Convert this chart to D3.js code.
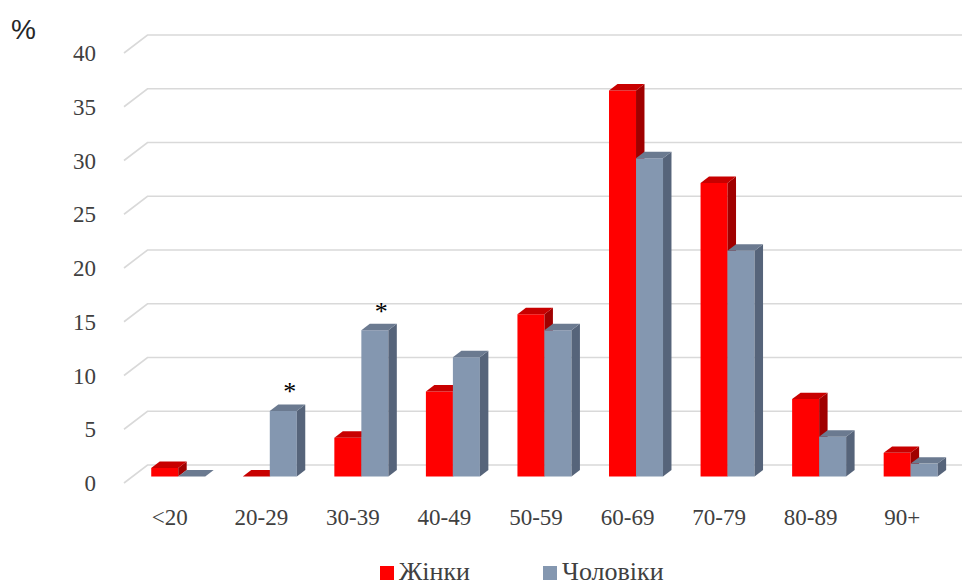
<!DOCTYPE html>
<html>
<head>
<meta charset="utf-8">
<script src="https://cdn.jsdelivr.net/npm/d3@7"></script>
<style>
  body { margin: 0; background: #fff; }
  svg { display: block; }
  .serif { font-family: "Times New Roman", "Liberation Serif", Tinos, "DejaVu Serif", serif; }
</style>
</head>
<body>
<script>
var width = 962
var height = 586

var categories = ["<20", "20-29", "30-39", "40-49", "50-59", "60-69", "70-79", "80-89", "90+"]
var women = [0.8, 0, 3.6, 7.9, 15.1, 35.9, 27.3, 7.2, 2.2]
var men = [0, 6.1, 13.6, 11.1, 13.6, 29.6, 21.0, 3.7, 1.2]
var yTicks = [0, 5, 10, 15, 20, 25, 30, 35, 40]
var seriesNames = ["Жінки", "Чоловіки"]
var starred = ["20-29", "30-39"]   // men's bars marked with *

// oblique 3d: depth shift of the back wall
var dx = 23.5, dy = 18
var fa = 0.36, fb = 0.72   // depth of bar front / back faces

var colors = [
  { front: "#ff0000", top: "#c80000", side: "#a00000" },
  { front: "#8497b0", top: "#6b7a90", side: "#56647a" }
]

var svg = d3.select("body").append("svg")
  .attr("width", width)
  .attr("height", height)

var x = d3.scaleBand()
  .domain(categories)
  .range([124, 948])
  .paddingInner(0.41)
  .paddingOuter(0.205)

var x1 = d3.scaleBand()
  .domain([0, 1])
  .range([0, x.bandwidth()])

var y = d3.scaleLinear()
  .domain([0, 40])
  .range([483, 53])

function P(xv, v, f) {
  return [xv + dx * f, y(v) - dy * f]
}
function poly(pts) {
  return "M" + pts.map(function (p) { return p[0].toFixed(2) + "," + p[1].toFixed(2) }).join("L") + "Z"
}

// gridlines (diagonal on the floor side + line along back wall)
var grid = svg.append("g")
grid.selectAll("path")
  .data(yTicks)
  .enter().append("path")
  .attr("d", function (d) {
    var a = [124, y(d)], b = P(124, d, 1)
    return "M" + a + "L" + b + "L" + width + "," + b[1]
  })
  .attr("fill", "none")
  .attr("stroke", "#d9d9d9")
  .attr("stroke-width", 1.6)

// y tick labels
svg.append("g").selectAll("text")
  .data(yTicks)
  .enter().append("text")
  .attr("class", "serif")
  .attr("x", 96)
  .attr("y", function (d) { return y(d) + 8 })
  .attr("text-anchor", "end")
  .style("font-size", "23px")
  .style("fill", "#404040")
  .text(function (d) { return d })

svg.append("text")
  .attr("x", 11)
  .attr("y", 39)
  .style("font-family", "Arial, 'Liberation Sans', sans-serif")
  .style("font-size", "28px")
  .style("fill", "#262626")
  .text("%")

// bars
var rows = []
categories.forEach(function (c, i) {
  rows.push({ cat: c, s: 0, v: women[i] })
  rows.push({ cat: c, s: 1, v: men[i] })
})

var bar = svg.append("g").selectAll("g")
  .data(rows)
  .enter().append("g")

bar.each(function (d) {
  var g = d3.select(this)
  var x0 = x(d.cat) + x1(d.s), xr = x0 + x1.bandwidth()
  var col = colors[d.s]
  g.append("path")
    .attr("d", poly([P(x0, 0, fa), P(xr, 0, fa), P(xr, d.v, fa), P(x0, d.v, fa)]))
    .attr("fill", col.front)
  g.append("path")
    .attr("d", poly([P(xr, 0, fa), P(xr, 0, fb), P(xr, d.v, fb), P(xr, d.v, fa)]))
    .attr("fill", col.side)
  g.append("path")
    .attr("d", poly([P(x0, d.v, fa), P(xr, d.v, fa), P(xr, d.v, fb), P(x0, d.v, fb)]))
    .attr("fill", col.top)
})

// asterisks
svg.append("g").selectAll("text")
  .data(rows.filter(function (d) { return d.s === 1 && starred.indexOf(d.cat) >= 0 }))
  .enter().append("text")
  .attr("class", "serif")
  .attr("x", function (d) { return P(x(d.cat) + x1(1) + x1.bandwidth() / 2, d.v, fb)[0] - 2 })
  .attr("y", function (d) { return P(0, d.v, fb)[1] - 4 })
  .attr("text-anchor", "middle")
  .style("font-size", "26px")
  .style("fill", "#000")
  .text("*")

// category labels
svg.append("g").selectAll("text")
  .data(categories)
  .enter().append("text")
  .attr("class", "serif")
  .attr("x", function (d) { return x(d) + x.bandwidth() / 2 })
  .attr("y", 525)
  .attr("text-anchor", "middle")
  .style("font-size", "23px")
  .style("fill", "#404040")
  .text(function (d) { return d })

// legend
var legend = svg.append("g").selectAll("g")
  .data(seriesNames)
  .enter().append("g")
  .attr("transform", function (d, i) { return "translate(" + (380 + i * 163) + ",0)" })

legend.append("rect")
  .attr("x", 0).attr("y", 566)
  .attr("width", 14).attr("height", 14)
  .attr("fill", function (d, i) { return colors[i].front })

legend.append("text")
  .attr("class", "serif")
  .attr("x", 19)
  .attr("y", 580)
  .style("font-size", "26px")
  .style("fill", "#404040")
  .text(function (d) { return d })
</script>
</body>
</html>
